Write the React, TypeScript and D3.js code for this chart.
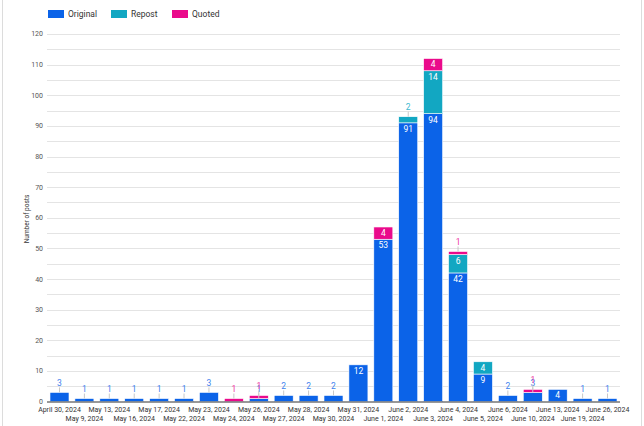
import React, { useEffect, useRef } from "react";
import * as d3 from "d3";

const categories = [
  "April 30, 2024", "May 9, 2024", "May 13, 2024", "May 16, 2024", "May 17, 2024",
  "May 22, 2024", "May 23, 2024", "May 24, 2024", "May 26, 2024", "May 27, 2024",
  "May 28, 2024", "May 30, 2024", "May 31, 2024", "June 1, 2024", "June 2, 2024",
  "June 3, 2024", "June 4, 2024", "June 5, 2024", "June 6, 2024", "June 10, 2024",
  "June 13, 2024", "June 19, 2024", "June 26, 2024",
];
const original = [3, 1, 1, 1, 1, 1, 3, 0, 1, 2, 2, 2, 12, 53, 91, 94, 42, 9, 2, 3, 4, 1, 1];
const repost = [0, 0, 0, 0, 0, 0, 0, 0, 0, 0, 0, 0, 0, 0, 2, 14, 6, 4, 0, 0, 0, 0, 0];
const quoted = [0, 0, 0, 0, 0, 0, 0, 1, 1, 0, 0, 0, 0, 4, 0, 4, 1, 0, 0, 1, 0, 0, 0];
const seriesNames = ["Original", "Repost", "Quoted"];
const colors = ["#0b63e8", "#12a7c2", "#ea0a8b"];
const labelColors = ["#3d82ee", "#3bb8cf", "#ee3a9f"];
const yTicks = [0, 10, 20, 30, 40, 50, 60, 70, 80, 90, 100, 110, 120];

const W = 644;
const H = 426;
const FONT = "Roboto, sans-serif";

const App = () => {
  const svgRef = useRef(null);

  useEffect(() => {
    const svg = d3.select(svgRef.current);
    svg.selectAll("*").remove();

    const x = d3.scaleBand().domain(categories).range([47, 620]).paddingInner(0.237).paddingOuter(0.12);
    const y = d3.scaleLinear().domain([0, 120]).range([401.6, 34]);

    // card border
    svg.append("line").attr("x1", 2.5).attr("x2", 2.5).attr("y1", 0).attr("y2", H).attr("stroke", "#dcdcdc");
    svg.append("line").attr("x1", 641.5).attr("x2", 641.5).attr("y1", 0).attr("y2", H).attr("stroke", "#dcdcdc");

    // gridlines every 5
    const grid = d3.range(5, 121, 5);
    svg.append("g").selectAll("line").data(grid).join("line")
      .attr("x1", 47).attr("x2", 620)
      .attr("y1", (d) => Math.round(y(d)) + 0.5).attr("y2", (d) => Math.round(y(d)) + 0.5)
      .attr("stroke", "#e4e4e4").attr("stroke-width", 1);

    // y tick labels
    svg.append("g").selectAll("text").data(yTicks).join("text")
      .attr("x", 43).attr("y", (d) => y(d)).attr("dy", "0.35em")
      .attr("text-anchor", "end").attr("font-family", FONT).attr("font-size", 7)
      .attr("fill", "#555").text((d) => d);

    svg.append("text")
      .attr("transform", "translate(29,219) rotate(-90)")
      .attr("text-anchor", "middle").attr("font-family", FONT).attr("font-size", 6.5)
      .attr("fill", "#333").text("Number of posts");

    // stacked data
    const rows = categories.map((c, i) => ({ cat: c, Original: original[i], Repost: repost[i], Quoted: quoted[i] }));
    const stack = d3.stack().keys(seriesNames)(rows as any);

    const bars = svg.append("g");
    const labels = svg.append("g");
    stack.forEach((layer, si) => {
      layer.forEach((seg, i) => {
        const v = seg[1] - seg[0];
        if (v <= 0) return;
        const cat = categories[i];
        const x0 = x(cat) as number;
        const top = y(seg[1]);
        const h = y(seg[0]) - top;
        bars.append("rect")
          .attr("x", x0).attr("y", top).attr("width", x.bandwidth()).attr("height", h)
          .attr("fill", colors[si]).attr("stroke", "#fff").attr("stroke-width", 0.6);
        const cx = x0 + x.bandwidth() / 2;
        if (h >= 11) {
          labels.append("text").attr("x", cx).attr("y", top + 6).attr("dy", "0.35em")
            .attr("text-anchor", "middle").attr("font-family", FONT).attr("font-size", 8.5)
            .attr("fill", "#fff").text(v);
        } else {
          // small segment: value above with a leader line
          labels.append("line").attr("x1", cx).attr("x2", cx).attr("y1", top - 5).attr("y2", top)
            .attr("stroke", "#c8c8c8").attr("stroke-width", 1);
          labels.append("text").attr("x", cx).attr("y", top - 9.5).attr("dy", "0.35em")
            .attr("text-anchor", "middle").attr("font-family", FONT).attr("font-size", 8.5)
            .attr("fill", labelColors[si]).text(v);
        }
      });
    });

    // x baseline
    svg.append("line").attr("x1", 47).attr("x2", 620).attr("y1", 402).attr("y2", 402)
      .attr("stroke", "#333").attr("stroke-width", 1);

    // x labels, alternating rows
    svg.append("g").selectAll("text").data(categories).join("text")
      .attr("x", (d) => (x(d) as number) + x.bandwidth() / 2)
      .attr("y", (d, i) => (i % 2 === 0 ? 411.5 : 420.5))
      .attr("text-anchor", "middle").attr("font-family", FONT).attr("font-size", 7)
      .attr("fill", "#333").text((d) => d);

    // legend
    const legendX = [48, 111, 172];
    seriesNames.forEach((name, i) => {
      svg.append("rect").attr("x", legendX[i]).attr("y", 10).attr("width", 16).attr("height", 8)
        .attr("fill", colors[i]);
      svg.append("text").attr("x", legendX[i] + 20).attr("y", 14).attr("dy", "0.35em")
        .attr("font-family", FONT).attr("font-size", 8.5).attr("fill", "#333").text(name);
    });
  }, []);

  return (
    <svg
      ref={svgRef}
      width={W}
      height={H}
      style={{ position: "absolute", left: 0, top: 0, background: "#fff" }}
    ></svg>
  );
};

export default App;
